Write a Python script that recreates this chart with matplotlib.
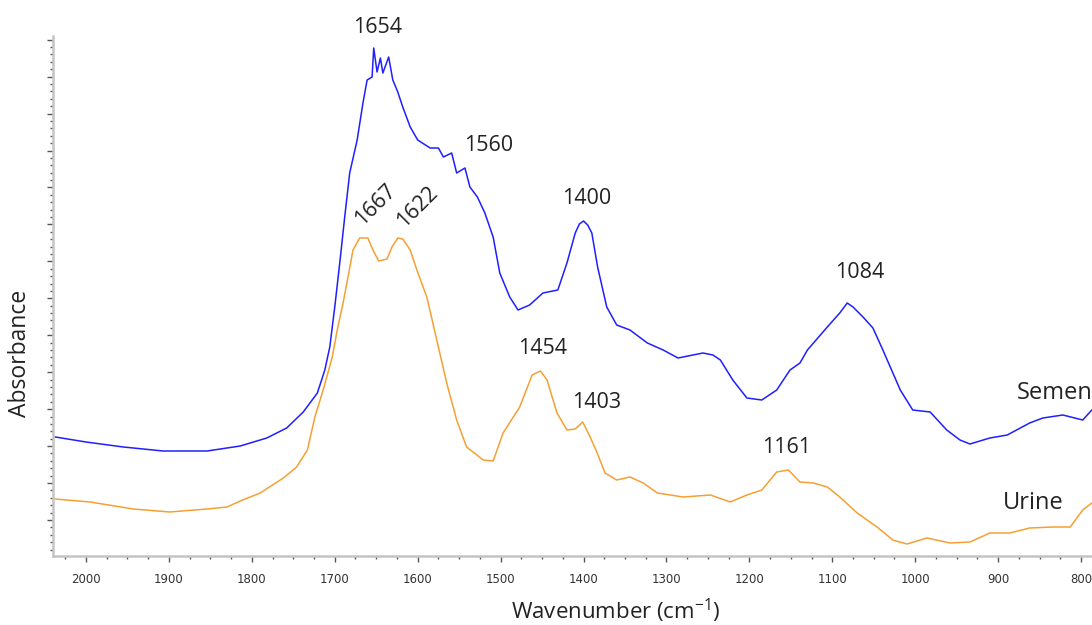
import numpy as np
import matplotlib
matplotlib.use("Agg")
import matplotlib.pyplot as plt
from matplotlib.ticker import FixedLocator, MultipleLocator

# traced spectra (wavenumber in cm-1, absorbance in arbitrary units)
semen_wn = [2037, 2000, 1955, 1907, 1854, 1814, 1782, 1758, 1738, 1721, 1712, 1706,
            1700, 1694, 1688, 1682, 1673, 1666, 1661, 1655, 1653, 1649, 1645, 1642,
            1635, 1630, 1624, 1618, 1609, 1600, 1585, 1575, 1569, 1559, 1553, 1543,
            1537, 1528, 1519, 1509, 1501, 1489, 1479, 1465, 1449, 1431, 1420, 1410,
            1405, 1400, 1395, 1390, 1383, 1372, 1360, 1344, 1323, 1304, 1286, 1256,
            1244, 1235, 1220, 1203, 1185, 1167, 1151, 1139, 1130, 1106, 1091, 1082,
            1075, 1063, 1051, 1039, 1018, 1003, 982, 962, 946, 934, 910, 889, 862,
            846, 822, 798, 787]
semen_abs = [0.238, 0.228, 0.218, 0.210, 0.210, 0.220, 0.236, 0.256, 0.288, 0.326,
             0.372, 0.418, 0.498, 0.586, 0.678, 0.766, 0.832, 0.906, 0.952, 0.958,
             1.016, 0.968, 0.996, 0.966, 0.998, 0.952, 0.928, 0.898, 0.858, 0.832,
             0.816, 0.816, 0.798, 0.806, 0.766, 0.776, 0.738, 0.718, 0.686, 0.638,
             0.566, 0.518, 0.492, 0.502, 0.526, 0.532, 0.586, 0.646, 0.664, 0.670,
             0.662, 0.646, 0.578, 0.498, 0.462, 0.452, 0.426, 0.412, 0.396, 0.406,
             0.402, 0.392, 0.352, 0.316, 0.312, 0.332, 0.372, 0.386, 0.412, 0.458,
             0.486, 0.506, 0.498, 0.478, 0.456, 0.412, 0.332, 0.292, 0.288, 0.252,
             0.232, 0.224, 0.236, 0.242, 0.266, 0.276, 0.282, 0.272, 0.292]

urine_wn = [2037, 1995, 1943, 1899, 1854, 1830, 1814, 1790, 1762, 1746, 1733, 1724,
            1714, 1703, 1697, 1690, 1684, 1678, 1670, 1660, 1654, 1647, 1637, 1631,
            1624, 1618, 1609, 1601, 1589, 1577, 1565, 1553, 1541, 1521, 1509, 1497,
            1477, 1462, 1452, 1444, 1432, 1420, 1410, 1401, 1392, 1384, 1374, 1360,
            1344, 1328, 1311, 1280, 1247, 1223, 1203, 1185, 1167, 1153, 1139, 1123,
            1106, 1091, 1070, 1046, 1027, 1010, 986, 958, 934, 910, 886, 862, 834,
            813, 798, 787]
urine_abs = [0.114, 0.108, 0.094, 0.088, 0.094, 0.098, 0.110, 0.126, 0.156, 0.178,
             0.212, 0.278, 0.332, 0.398, 0.452, 0.506, 0.558, 0.612, 0.636, 0.636,
             0.612, 0.590, 0.594, 0.618, 0.636, 0.634, 0.612, 0.572, 0.518, 0.432,
             0.346, 0.272, 0.218, 0.192, 0.190, 0.246, 0.298, 0.362, 0.370, 0.352,
             0.286, 0.252, 0.254, 0.268, 0.238, 0.208, 0.166, 0.152, 0.158, 0.146,
             0.126, 0.118, 0.122, 0.108, 0.122, 0.132, 0.168, 0.172, 0.148, 0.146,
             0.138, 0.118, 0.086, 0.058, 0.032, 0.024, 0.036, 0.026, 0.028, 0.046,
             0.046, 0.056, 0.058, 0.058, 0.092, 0.106]

peak_labels = ["1654", "1560", "1400", "1084", "1454", "1403", "1161"]
peak_pos = [(1648, 1.058), (1515, 0.822), (1396, 0.716), (1067, 0.568),
            (1450, 0.416), (1384, 0.308), (1155, 0.218)]
rot_labels = ["1667", "1622"]
rot_pos = [(1651, 0.702), (1600, 0.698)]

BLUE = "#1f1fff"
ORANGE = "#f6a033"
AXC = "#c4c4c4"
TICKC = "#555555"
TXT = ["Open Sans", "DejaVu Sans"]

fig = plt.figure(figsize=(10.92, 6.25), dpi=100)
ax = fig.add_axes([53 / 1092, 69 / 625, 1 - 53 / 1092, 520 / 625])

ax.plot(semen_wn, semen_abs, color=BLUE, lw=1.1)
ax.plot(urine_wn, urine_abs, color=ORANGE, lw=1.1)

ax.set_xlim(2039.8, 786.8)
ax.set_ylim(0, 1.04)

for s in ["top", "right"]:
    ax.spines[s].set_visible(False)
for s in ["left", "bottom"]:
    ax.spines[s].set_color(AXC)
    ax.spines[s].set_linewidth(1.8)

ax.xaxis.set_major_locator(MultipleLocator(100))
ax.xaxis.set_minor_locator(MultipleLocator(25))
ax.yaxis.set_major_locator(FixedLocator(np.arange(0.072, 1.04, 0.0739)))
ax.yaxis.set_minor_locator(FixedLocator(np.arange(0.072 - 4 * 0.01478, 1.04, 0.01478)))
ax.set_yticklabels([])
ax.tick_params(axis="both", which="major", length=4, width=1.0, color=TICKC)
ax.tick_params(axis="both", which="minor", length=2.5, width=1.0, color=TICKC)
ax.tick_params(axis="x", labelsize=8.5, labelcolor="#333333", pad=8)
for lab in ax.get_xticklabels():
    lab.set_family(["Liberation Sans Narrow", "DejaVu Sans"])

ax.set_xlabel(r"Wavenumber (cm$^{\mathregular{-1}}$)", fontsize=16, family=TXT,
              color="#222222")
ax.set_ylabel("Absorbance", fontsize=16.5, family=TXT, color="#222222")
ax.xaxis.set_label_coords(0.542, -0.078)
ax.yaxis.set_label_coords(-0.020, 0.39)

for t, (x, y) in zip(peak_labels, peak_pos):
    ax.text(x, y, t, ha="center", va="center", fontsize=15.5, family=TXT,
            color="#222222", clip_on=False)
for t, (x, y) in zip(rot_labels, rot_pos):
    ax.text(x, y, t, ha="center", va="center", rotation=45, fontsize=15.5,
            family=TXT, color="#222222", rotation_mode="anchor")

ax.text(878, 0.326, "Semen", ha="left", va="center", fontsize=17, family=TXT,
        color="#222222")
ax.text(894, 0.106, "Urine", ha="left", va="center", fontsize=17, family=TXT,
        color="#222222")

fig.savefig("out.png", dpi=100)
